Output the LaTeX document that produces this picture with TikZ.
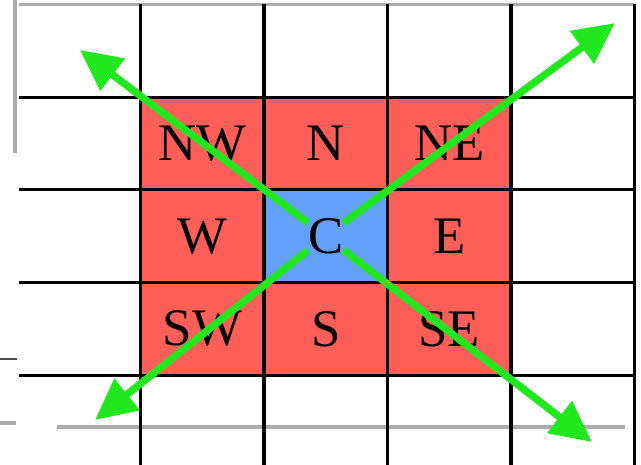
\documentclass[tikz,border=0pt]{standalone}
\usepackage{fontspec}
\setmainfont{Liberation Serif}
\usetikzlibrary{arrows.meta}
\definecolor{cellred}{RGB}{255,95,88}
\definecolor{cellblue}{RGB}{98,160,250}
\definecolor{arrowgreen}{RGB}{34,230,30}
\definecolor{scrgray}{RGB}{172,172,172}

\begin{document}
\begin{tikzpicture}[x=2.47cm, y=-1.854cm]

  \tikzstyle{grid}  = [black, line width=1.8pt]
  \tikzstyle{lbl}   = [font=\fontsize{30}{32}\selectfont, inner sep=0pt]
  \tikzstyle{dir}   = [arrowgreen, line width=4.2pt, -{Triangle[length=0.82cm, width=0.78cm]}]
  \tikzstyle{shade} = [scrgray, line width=2.6pt]

  \useasboundingbox (-0.1377,-0.0485) rectangle (5.053,4.968);

  % ---- CELLS ----
  \fill[cellred] (1,1) rectangle (4,4);
  \fill[cellblue] (2,2) rectangle (3,3);

  % ---- SCREEN EDGES ----
  \draw[scrgray, line width=1.2pt] (0.02,0) -- (5,0);
  \draw[shade] (-0.016,-0.0485) -- (-0.016,1.6);
  \draw[shade] (0.324,4.557) -- (4.923,4.557);
  \draw[shade] (-0.1377,4.515) -- (-0.01,4.515);
  \draw[black!70, line width=1pt] (-0.1377,3.824) -- (0.0,3.824);

  % ---- GRID ----
  \foreach \x in {1,...,5}{
    \draw[grid] (\x,0) -- (\x,4.968);
  }
  \foreach \y in {1,...,4}{
    \draw[grid] (0.02,\y) -- (5,\y);
  }

  % ---- LABELS ----
  \foreach \name/\txt/\cx/\cy in {nw/NW/1/1, n/N/2/1, ne/NE/3/1,
                                  w/W/1/2, c/C/2/2, e/E/3/2,
                                  sw/SW/1/3, s/S/2/3, se/SE/3/3}{
    \node[lbl] (\name) at (\cx+0.5,\cy+0.5) {\txt};
  }

  % ---- ARROWS (out of the centre) ----
  \coordinate (tipnw) at (0.510,0.491);
  \coordinate (tipne) at (4.842,0.200);
  \coordinate (tipsw) at (0.632,4.482);
  \coordinate (tipse) at (4.656,4.720);
  \foreach \t in {nw,ne,sw,se}{
    \draw[dir] (c) -- (tip\t);
  }

\end{tikzpicture}
\end{document}
